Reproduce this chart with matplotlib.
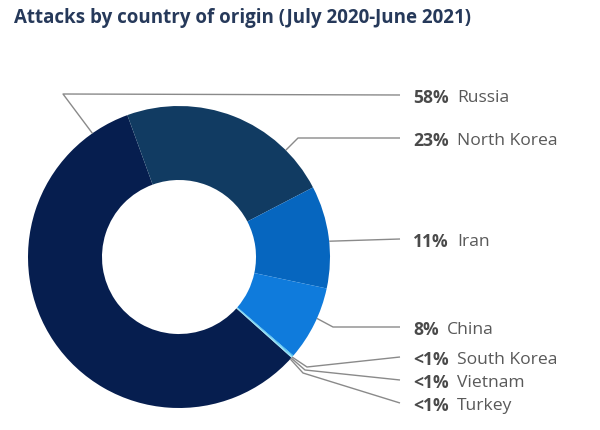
import numpy as np
import matplotlib.pyplot as plt

plt.rcParams["font.family"] = ["Open Sans", "DejaVu Sans"]

countries = ["Russia", "North Korea", "Iran", "China", "South Korea", "Vietnam", "Turkey"]
shares = [58, 23, 11, 8, 0.1, 0.1, 0.1]
pct_labels = ["58%", "23%", "11%", "8%", "<1%", "<1%", "<1%"]
colors = ["#061e4f", "#113b62", "#0666bf", "#0f7bdc", "#3cb6ec", "#5ccbf0", "#8cdcf4"]

# layout, in image pixels (y down)
W, H = 600, 431
cx, cy, R = 179, 258, 151
hole = 0.51
anchor_ang = [125, 45, 6, -24, -41.5, -42, -42.5]
elbows = [(63, 95), (298, 139), None, (333, 328), (307, 368), (305, 371), (303, 374)]
label_y = [96, 139, 240, 328, 358, 381, 404]
line_end = 400
text_x = 413

fig = plt.figure(figsize=(6.0, 4.31), dpi=100)
ax = fig.add_axes([0, 0, 1, 1])

start = 110 + 360 * shares[0] / sum(shares)
ax.pie(
    shares,
    colors=colors,
    startangle=start,
    counterclock=False,
    radius=R,
    center=(cx, H - cy),
    wedgeprops=dict(width=R * (1 - hole), linewidth=0),
)

for i in range(len(countries)):
    a = np.deg2rad(anchor_ang[i])
    xs = [cx + R * np.cos(a)]
    ys = [H - (cy - R * np.sin(a))]
    if elbows[i] is not None:
        xs.append(elbows[i][0])
        ys.append(H - elbows[i][1])
    xs.append(line_end)
    ys.append(H - label_y[i])
    ax.plot(xs, ys, color="#8a8a8a", lw=1.0, solid_capstyle="butt")

    t = ax.text(text_x, H - label_y[i] - 2, pct_labels[i], fontsize=12.6,
                fontweight="bold", color="#4a4a4a", va="center", ha="left")
    ax.annotate(countries[i], xy=(1, 0.5), xycoords=t, xytext=(6, 0),
                textcoords="offset points", fontsize=12.6, color="#595959",
                va="center", ha="left")

fig.text(14 / W, 1 - 18 / H, "Attacks by country of origin (July 2020-June 2021)",
         fontsize=13.5, fontweight="bold", color="#26395a", va="center", ha="left")

ax.set_xlim(0, W)
ax.set_ylim(0, H)
ax.set_aspect("equal")
ax.axis("off")

fig.savefig("out.png", dpi=100)
